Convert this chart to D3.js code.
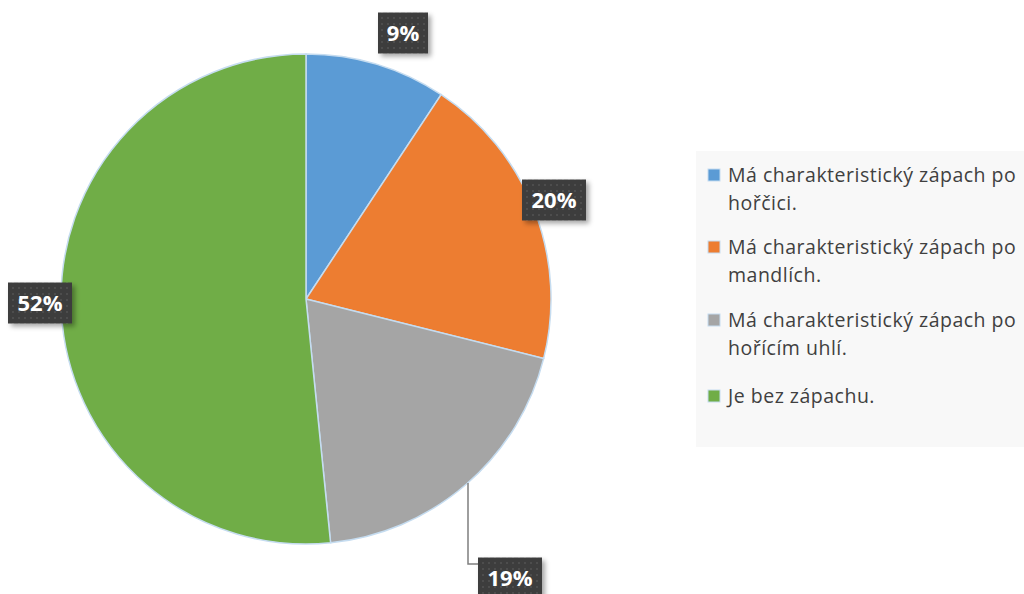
<!DOCTYPE html>
<html lang="cs">
<head>
<meta charset="UTF-8" />
<title>pie</title>
<script src="https://cdn.jsdelivr.net/npm/d3@7/dist/d3.min.js"></script>
<style>
  body { margin: 0; background: #fff; }
  svg { display: block; }
</style>
</head>
<body>
<svg id="svg"></svg>
<script>
  const categories = [
    "Má charakteristický zápach po hořčici.",
    "Má charakteristický zápach po mandlích.",
    "Má charakteristický zápach po hořícím uhlí.",
    "Je bez zápachu."
  ];
  const legendLines = [
    ["Má charakteristický zápach po", "hořčici."],
    ["Má charakteristický zápach po", "mandlích."],
    ["Má charakteristický zápach po", "hořícím uhlí."],
    ["Je bez zápachu."]
  ];
  const values = [9.3, 19.6, 19.5, 51.6];
  const labels = ["9%", "20%", "19%", "52%"];
  const colors = ["#5b9bd5", "#ed7d31", "#a5a5a5", "#70ad47"];

  const width = 1024, height = 594;
  const cx = 306, cy = 299, radius = 245;

  const svg = d3.select("#svg").attr("width", width).attr("height", height);

  const defs = svg.append("defs");
  const pat = defs.append("pattern").attr("id", "dots")
    .attr("width", 6).attr("height", 6).attr("patternUnits", "userSpaceOnUse");
  pat.append("rect").attr("width", 6).attr("height", 6).attr("fill", "#3c3c3c");
  pat.append("circle").attr("cx", 3).attr("cy", 3).attr("r", 1).attr("fill", "#535353");
  const shadow = defs.append("filter").attr("id", "shadow")
    .attr("x", "-30%").attr("y", "-30%").attr("width", "170%").attr("height", "170%");
  shadow.append("feDropShadow").attr("dx", 3).attr("dy", 3).attr("stdDeviation", 2.5)
    .attr("flood-color", "#000").attr("flood-opacity", 0.35);

  const pie = d3.pie().sort(null).value(d => d);
  const arcs = pie(values);
  const arc = d3.arc().innerRadius(0).outerRadius(radius);

  const g = svg.append("g").attr("transform", `translate(${cx},${cy})`);
  g.selectAll("path").data(arcs).join("path")
    .attr("d", arc)
    .attr("fill", (d, i) => colors[i])
    .attr("stroke", "#c5dcf0")
    .attr("stroke-width", 1.5);

  // label boxes: centre position relative to the pie centre
  const boxPos = [
    [97, -266],
    [248, -99],
    [204, 279],
    [-266, 4]
  ];
  const boxW = [50, 64, 64, 64], boxH = 41;

  // leader line for the 19% label
  g.append("polyline")
    .attr("points", [[162, 184], [162, 265], [172, 265]].map(q => q.join(",")).join(" "))
    .attr("fill", "none").attr("stroke", "#7f7f7f").attr("stroke-width", 1.5);

  const lab = g.selectAll("g.lab").data(arcs).join("g").attr("class", "lab")
    .attr("transform", (d, i) => `translate(${boxPos[i][0]},${boxPos[i][1]})`);
  lab.append("rect")
    .attr("x", (d, i) => -boxW[i] / 2).attr("y", -boxH / 2)
    .attr("width", (d, i) => boxW[i]).attr("height", boxH)
    .attr("fill", "url(#dots)")
    .attr("filter", "url(#shadow)");
  lab.append("text")
    .attr("text-anchor", "middle").attr("dy", "0.36em")
    .attr("fill", "#fff").attr("font-weight", "bold")
    .attr("font-family", "Open Sans, sans-serif").attr("font-size", 22)
    .text((d, i) => labels[i]);

  // legend
  const legend = svg.append("g");
  legend.append("rect").attr("x", 696).attr("y", 151).attr("width", 330).attr("height", 296)
    .attr("fill", "#f8f8f8");
  const rowY = [175, 247, 320, 396];
  const item = legend.selectAll("g.item").data(categories).join("g").attr("class", "item")
    .attr("transform", (d, i) => `translate(708,${rowY[i]})`);
  item.append("rect").attr("x", 0).attr("y", -6).attr("width", 12).attr("height", 12)
    .attr("fill", (d, i) => colors[i])
    .attr("stroke", "#c5dcf0").attr("stroke-width", 1);
  item.append("text")
    .attr("x", 20)
    .attr("font-family", "Open Sans, sans-serif").attr("font-size", 19.5)
    .attr("letter-spacing", 0.5)
    .attr("fill", "#404040")
    .selectAll("tspan").data((d, i) => legendLines[i]).join("tspan")
    .attr("x", 20).attr("y", (d, j) => j * 28).attr("dy", "0.35em")
    .text(d => d);
</script>
</body>
</html>
